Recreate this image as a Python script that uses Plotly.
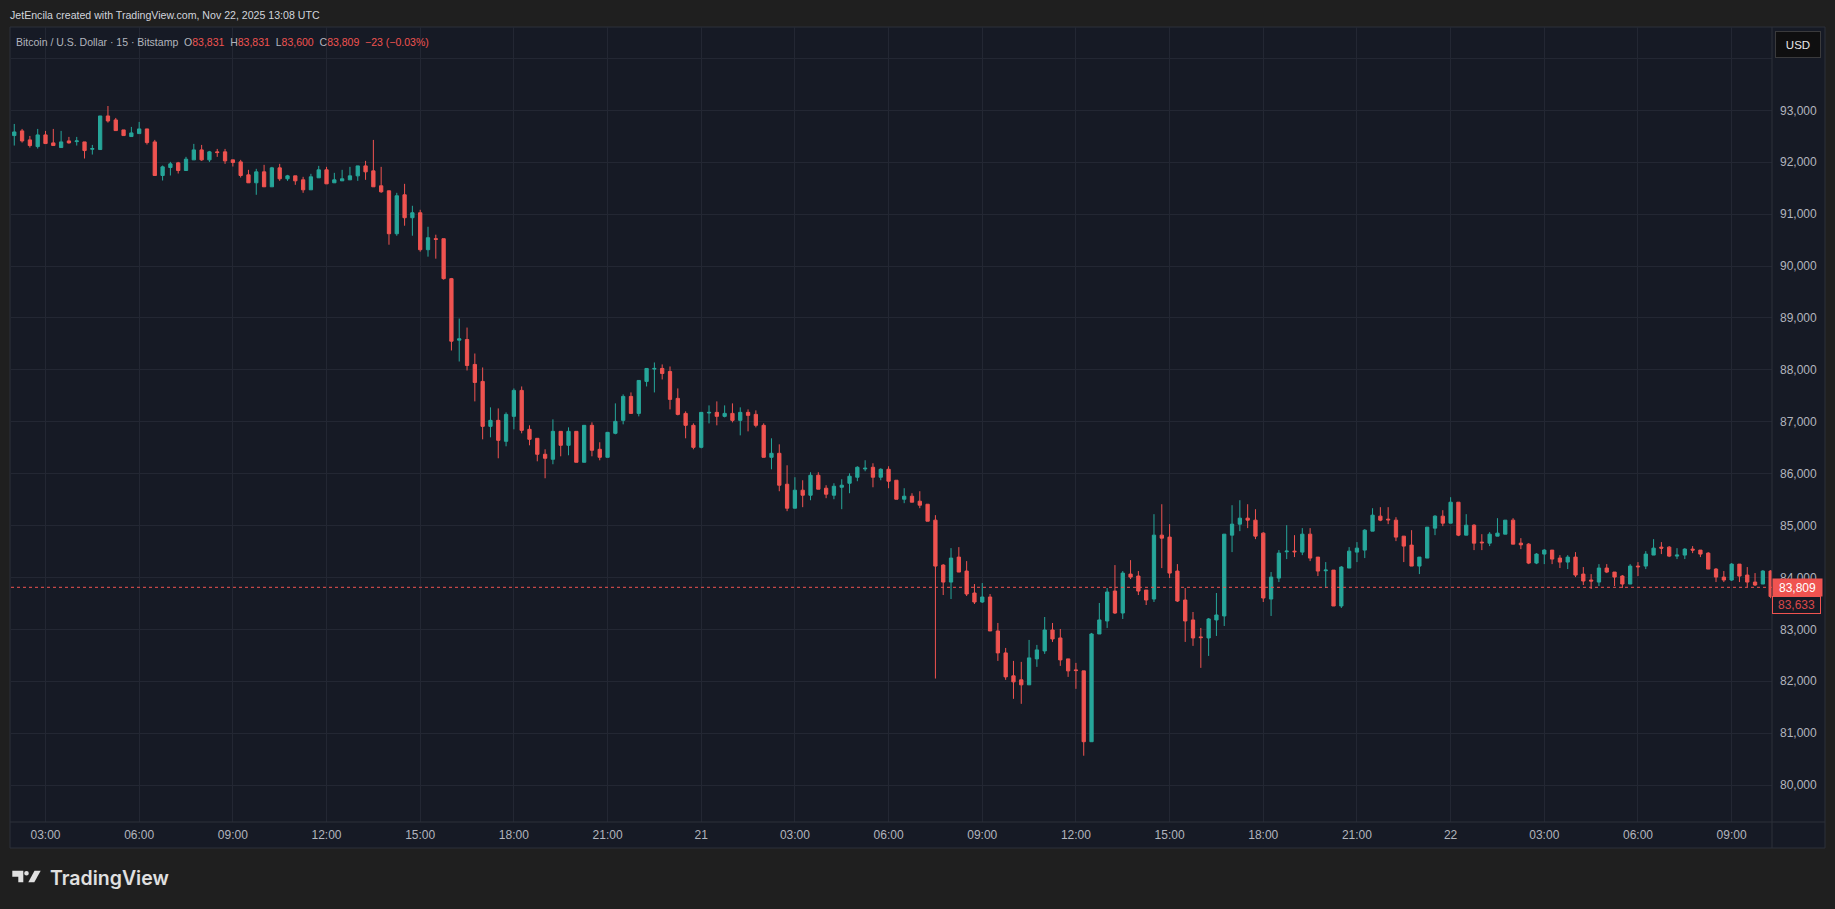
import plotly.graph_objects as go
import pandas as pd

# ---------------- data (15-minute BTC/USD candles, Bitstamp) ----------------
start_time = "2025-11-20 02:00"

opens = [92513, 92603, 92430, 92301, 92526, 92372, 92282, 92410, 92397, 92391,
         92250, 92244, 92891, 92814, 92622, 92494, 92551, 92641, 92391, 91744,
         91897, 91987, 91840, 92045, 92237, 92045, 92199, 92199, 92045, 92006,
         91756, 91603, 91814, 91526, 91891, 91680, 91737, 91660, 91468, 91699,
         91853, 91603, 91641, 91660, 91737, 91929, 91833, 91545, 91449, 90622,
         91372, 90930, 91026, 90314, 90526, 90526, 89756, 88571, 88583, 88103,
         87776, 86910, 87026, 86622, 87103, 87603, 86853, 86680, 86372, 86276,
         86814, 86545, 86814, 86218, 86930, 86468, 86314, 86776, 87026, 87487,
         87160, 87776, 88013, 88026, 87968, 87449, 87160, 86930, 86506, 87167,
         87180, 87103, 87160, 87026, 87180, 87141, 86930, 86314, 86391, 85795,
         85333, 85680, 85583, 85968, 85718, 85583, 85737, 85814, 85930, 86090,
         86122, 85930, 86083, 85872, 85506, 85564, 85468, 85410, 85103, 84237,
         83910, 84391, 84122, 83699, 83526, 83622, 82968, 82545, 82103, 82026,
         81930, 82430, 82583, 82987, 82833, 82430, 82218, 82199, 80834, 82910,
         83160, 83737, 83314, 84064, 84026, 83756, 83583, 84814, 84776, 84122,
         83564, 83180, 82853, 82833, 83180, 83257, 84814, 85026, 85141, 85103,
         84853, 83583, 83987, 84494, 84506, 84487, 84833, 84391, 84128, 84141,
         83449, 84180, 84487, 84526, 84891, 85180, 85122, 85103, 84795, 84622,
         84218, 84372, 84949, 85180, 85045, 85449, 84814, 85006, 84680, 84660,
         84795, 84833, 85103, 84660, 84641, 84276, 84449, 84526, 84372, 84295,
         84391, 84064, 83949, 83910, 84180, 84103, 84026, 83872, 84218, 84218,
         84430, 84583, 84583, 84410, 84430, 84545, 84526, 84468, 84160, 84006,
         83949, 84256, 84045, 83910, 83872, 84122]

highs = [92737, 92641, 92506, 92641, 92603, 92641, 92603, 92487, 92487, 92391,
         92333, 92891, 93083, 92853, 92622, 92680, 92776, 92641, 92430, 91936,
         92006, 92006, 92103, 92353, 92333, 92218, 92256, 92256, 92045, 92045,
         91853, 91872, 91949, 91910, 91968, 91756, 91737, 91718, 91776, 91929,
         91910, 91795, 91853, 91910, 91929, 92026, 92429, 91910, 91449, 91410,
         91583, 91160, 91083, 90756, 90603, 90526, 89770, 88987, 88814, 88314,
         88045, 87276, 87256, 87180, 87641, 87679, 86930, 86680, 86468, 87045,
         86814, 86891, 86814, 86930, 86987, 86603, 86795, 87353, 87526, 87564,
         87795, 88026, 88141, 88103, 88064, 87641, 87199, 86968, 87180, 87314,
         87391, 87314, 87353, 87276, 87237, 87218, 86968, 86680, 86564, 86160,
         85930, 85872, 86026, 86026, 85776, 85814, 85891, 86006, 86141, 86257,
         86199, 86103, 86141, 85872, 85718, 85622, 85660, 85410, 85199, 84256,
         84564, 84583, 84314, 83872, 83891, 83680, 83122, 82641, 82391, 82372,
         82795, 82699, 83237, 83122, 83006, 82430, 82353, 82199, 82930, 83507,
         83795, 84237, 84122, 84333, 84122, 83756, 85218, 85410, 85026, 84256,
         83795, 83333, 83026, 83218, 83699, 84833, 85391, 85487, 85410, 85314,
         84872, 84103, 84526, 85006, 84814, 84949, 84949, 84391, 84295, 84141,
         84218, 84583, 84680, 84929, 85333, 85353, 85353, 85160, 84795, 84910,
         84391, 84968, 85199, 85295, 85545, 85449, 85218, 85026, 84833, 84872,
         85141, 85103, 85141, 84756, 84660, 84468, 84545, 84526, 84429, 84429,
         84487, 84199, 84064, 84256, 84256, 84103, 84045, 84256, 84295, 84506,
         84737, 84680, 84603, 84564, 84564, 84603, 84526, 84487, 84180, 84122,
         84276, 84256, 84199, 84083, 84141, 84141]

lows = [92321, 92378, 92282, 92263, 92359, 92321, 92282, 92359, 92321, 92071,
        92147, 92244, 92763, 92609, 92513, 92494, 92551, 92340, 91744, 91647,
        91744, 91782, 91840, 92045, 92026, 92006, 92103, 91968, 91917, 91705,
        91603, 91372, 91526, 91526, 91641, 91641, 91564, 91410, 91468, 91699,
        91583, 91603, 91641, 91660, 91641, 91660, 91526, 91410, 90410, 90583,
        90776, 90583, 90276, 90180, 90141, 89737, 88372, 88160, 87987, 87391,
        86660, 86699, 86295, 86526, 86853, 86776, 86545, 86237, 85910, 86180,
        86333, 86353, 86218, 86218, 86333, 86256, 86314, 86757, 86949, 87160,
        87103, 87679, 87564, 87814, 87237, 87122, 86680, 86468, 86487, 86968,
        86930, 87083, 86987, 86737, 86814, 86891, 86314, 86083, 85660, 85276,
        85333, 85353, 85487, 85699, 85526, 85506, 85314, 85622, 85853, 86045,
        85737, 85872, 85718, 85506, 85430, 85449, 85333, 85083, 82051, 83660,
        83583, 84103, 83641, 83487, 83507, 82968, 82391, 82026, 81660, 81564,
        81930, 82276, 82526, 82757, 82295, 82083, 81853, 80564, 80834, 82910,
        83026, 83295, 83199, 83968, 83660, 83468, 83526, 84179, 83987, 83526,
        82757, 82680, 82257, 82487, 82872, 83064, 84487, 84891, 84949, 84737,
        83526, 83257, 83910, 84353, 84391, 84429, 84314, 84026, 83795, 83449,
        83410, 84180, 84295, 84372, 84891, 85083, 85026, 84699, 84295, 84218,
        84064, 84372, 84814, 84987, 85045, 84795, 84814, 84526, 84526, 84603,
        84795, 84833, 84641, 84545, 84256, 84256, 84256, 84256, 84180, 84160,
        84006, 83853, 83776, 83833, 84083, 83833, 83795, 83872, 84026, 84160,
        84430, 84449, 84391, 84353, 84353, 84468, 84391, 84160, 83910, 83910,
        83930, 83910, 83814, 83833, 83872, 83600]

closes = [92583, 92410, 92321, 92526, 92359, 92321, 92391, 92372, 92410, 92224,
          92263, 92891, 92795, 92609, 92513, 92564, 92641, 92378, 91744, 91910,
          91968, 91840, 92058, 92237, 92045, 92199, 92186, 92026, 91994, 91744,
          91603, 91814, 91526, 91891, 91680, 91737, 91641, 91468, 91718, 91853,
          91583, 91660, 91680, 91737, 91929, 91814, 91526, 91430, 90622, 91353,
          90930, 91026, 90314, 90545, 90513, 89756, 88551, 88596, 88083, 87756,
          86910, 87026, 86641, 87141, 87603, 86833, 86660, 86372, 86295, 86814,
          86545, 86814, 86218, 86930, 86449, 86314, 86795, 87006, 87487, 87160,
          87795, 88026, 88026, 87929, 87430, 87141, 86930, 86506, 87180, 87180,
          87103, 87160, 87026, 87180, 87122, 86930, 86314, 86391, 85776, 85333,
          85680, 85583, 85968, 85699, 85603, 85756, 85776, 85949, 86122, 86103,
          85930, 86083, 85853, 85506, 85564, 85449, 85391, 85083, 84218, 83910,
          84372, 84103, 83680, 83526, 83622, 82968, 82545, 82083, 81987, 81930,
          82449, 82603, 82987, 82814, 82410, 82199, 82205, 80834, 82910, 83180,
          83718, 83314, 84083, 84006, 83737, 83564, 84814, 84756, 84083, 83545,
          83160, 82833, 82840, 83199, 83276, 84833, 85026, 85141, 85103, 84795,
          83603, 84006, 84468, 84506, 84494, 84833, 84372, 84122, 84141, 83449,
          84199, 84506, 84564, 84910, 85199, 85103, 85109, 84776, 84603, 84218,
          84391, 84968, 85180, 85045, 85449, 84814, 85006, 84660, 84667, 84833,
          84853, 85103, 84641, 84628, 84276, 84449, 84526, 84353, 84295, 84391,
          84045, 83930, 83930, 84180, 84103, 84006, 83872, 84218, 84205, 84449,
          84564, 84564, 84410, 84430, 84545, 84526, 84449, 84160, 84006, 83949,
          84256, 84026, 83910, 83853, 84122, 83633]

x_tick_times = ["2025-11-20 03:00", "2025-11-20 06:00", "2025-11-20 09:00", "2025-11-20 12:00",
                "2025-11-20 15:00", "2025-11-20 18:00", "2025-11-20 21:00", "2025-11-21 00:00",
                "2025-11-21 03:00", "2025-11-21 06:00", "2025-11-21 09:00", "2025-11-21 12:00",
                "2025-11-21 15:00", "2025-11-21 18:00", "2025-11-21 21:00", "2025-11-22 00:00",
                "2025-11-22 03:00", "2025-11-22 06:00", "2025-11-22 09:00"]
x_tick_labels = ["03:00", "06:00", "09:00", "12:00", "15:00", "18:00", "21:00", "21",
                 "03:00", "06:00", "09:00", "12:00", "15:00", "18:00", "21:00", "22",
                 "03:00", "06:00", "09:00"]

y_tick_values = [80000, 81000, 82000, 83000, 84000, 85000, 86000, 87000, 88000,
                 89000, 90000, 91000, 92000, 93000, 94000]
y_tick_labels = ["80,000", "81,000", "82,000", "83,000", "84,000", "85,000", "86,000",
                 "87,000", "88,000", "89,000", "90,000", "91,000", "92,000", "93,000", ""]

last_price = 83809
last_price_label = "83,809"
second_label = "83,633"
header_text = "JetEncila created with TradingView.com, Nov 22, 2025 13:08 UTC"
legend_name = "Bitcoin / U.S. Dollar · 15 · Bitstamp"
legend_values = [("O", "83,831"), ("H", "83,831"), ("L", "83,600"), ("C", "83,809")]
legend_change = "−23 (−0.03%)"

# ---------------- styling ----------------
W, H = 1835, 909
L, R, T, B = 11, 1772, 27, 822          # plot area in pixels
GREEN = "#26a69a"
RED = "#ef5350"
PAGE_BG = "#1f1f1f"
CHART_BG = "#161a25"
GRID = "#232733"
BORDER = "#2c303b"
TEXT = "#b2b5be"
FONT = "Liberation Sans, Arial, sans-serif"


def px(x):
    return (x - L) / (R - L)


def py(y):
    return (B - y) / (B - T)


times = pd.date_range(start_time, periods=len(opens), freq="15min")
step = pd.Timedelta(minutes=15)

fig = go.Figure()
fig.add_trace(go.Candlestick(
    x=times, open=opens, high=highs, low=lows, close=closes,
    increasing=dict(line=dict(color=GREEN, width=1), fillcolor=GREEN),
    decreasing=dict(line=dict(color=RED, width=1), fillcolor=RED),
    whiskerwidth=0, showlegend=False, hoverinfo="skip",
))

shapes = [
    # outer chart frame
    dict(type="rect", xref="paper", yref="paper", x0=px(10), x1=px(1825), y0=py(848), y1=py(27),
         fillcolor=CHART_BG, line=dict(color=BORDER, width=1), layer="below"),
    # price scale separator
    dict(type="line", xref="paper", yref="paper", x0=px(1772), x1=px(1772), y0=py(848), y1=py(27),
         line=dict(color=BORDER, width=1)),
    # time scale separator
    dict(type="line", xref="paper", yref="paper", x0=px(10), x1=px(1825), y0=py(822), y1=py(822),
         line=dict(color=BORDER, width=1)),
    # last price dotted line
    dict(type="line", xref="paper", yref="y", x0=0, x1=1, y0=last_price, y1=last_price,
         line=dict(color=RED, width=1, dash="dot")),
    # TradingView logo glyph
    dict(type="path", xref="paper", yref="paper",
         path=f"M {px(12.3)},{py(870.7)} L {px(23.3)},{py(870.7)} L {px(23.3)},{py(882.3)} "
              f"L {px(18.3)},{py(882.3)} L {px(18.3)},{py(876.7)} L {px(12.3)},{py(876.7)} Z",
         fillcolor="#e0e0e0", line=dict(width=0)),
    dict(type="circle", xref="paper", yref="paper", x0=px(24.2), x1=px(28.8), y0=py(875.6), y1=py(871.0),
         fillcolor="#e0e0e0", line=dict(width=0)),
    dict(type="path", xref="paper", yref="paper",
         path=f"M {px(34.5)},{py(870.7)} L {px(40.7)},{py(870.7)} L {px(34.3)},{py(882.3)} "
              f"L {px(28.3)},{py(882.3)} Z",
         fillcolor="#e0e0e0", line=dict(width=0)),
]

legend_html = legend_name + "\u00a0\u00a0" + "\u00a0\u00a0".join(
    f"{k}<span style='color:{RED}'>{v}</span>" for k, v in legend_values
) + f"\u00a0\u00a0<span style='color:{RED}'>{legend_change}</span>"

annotations = [
    dict(text=header_text, xref="paper", yref="paper", x=px(8), y=py(15), xanchor="left",
         yanchor="middle", showarrow=False, font=dict(family=FONT, size=10.6, color="#d1d4dc")),
    dict(text=legend_html, xref="paper", yref="paper", x=px(14), y=py(42), xanchor="left",
         yanchor="middle", showarrow=False, font=dict(family=FONT, size=10.5, color=TEXT)),
    dict(text="USD", xref="paper", yref="paper", x=px(1798), y=py(44), xanchor="center",
         yanchor="middle", showarrow=False, width=38, height=19, borderpad=3,
         bgcolor="#0f0f10", bordercolor="#3a3a3c", borderwidth=1,
         font=dict(family=FONT, size=11.5, color="#e8e8e8")),
    dict(text=last_price_label, xref="paper", yref="y", x=px(1772), y=last_price, xanchor="left",
         yanchor="middle", showarrow=False, width=45, height=13, borderpad=2, bgcolor=RED,
         font=dict(family=FONT, size=12, color="#ffffff")),
    dict(text=second_label, xref="paper", yref="paper", x=px(1772), y=py(604.5), xanchor="left",
         yanchor="middle", showarrow=False, width=43, height=12, borderpad=2, bgcolor=CHART_BG,
         bordercolor=RED, borderwidth=1, font=dict(family=FONT, size=12, color="#d9484a")),
    dict(text="TradingView", xref="paper", yref="paper", x=px(48), y=py(878), xanchor="left",
         yanchor="middle", showarrow=False,
         font=dict(family="Inter, Lato, sans-serif", size=19.5, color="#e0e0e0", weight=600)),
]

fig.update_layout(
    width=W, height=H,
    margin=dict(l=L, r=W - R, t=T, b=H - B, autoexpand=False),
    paper_bgcolor=PAGE_BG, plot_bgcolor=CHART_BG,
    boxgap=0.4,
    showlegend=False,
    shapes=shapes, annotations=annotations,
    xaxis=dict(
        type="date", rangeslider=dict(visible=False),
        range=[times[0] - 0.42 * step, times[-1] + 0.17 * step],
        tickvals=pd.to_datetime(x_tick_times), ticktext=x_tick_labels,
        showgrid=True, gridcolor=GRID, gridwidth=1, zeroline=False, showline=False,
        ticks="", ticklabelstandoff=4,
        tickfont=dict(family=FONT, size=12, color=TEXT), fixedrange=True,
    ),
    yaxis=dict(
        side="right", range=[79287, 94605],
        tickvals=y_tick_values, ticktext=y_tick_labels,
        showgrid=True, gridcolor=GRID, gridwidth=1, zeroline=False, showline=False,
        ticks="", ticklabelstandoff=7,
        tickfont=dict(family=FONT, size=12, color=TEXT), fixedrange=True,
    ),
)

fig.write_html("out.html", config=dict(displayModeBar=False, responsive=False),
               post_script="document.body.style.margin='0';document.body.style.background='#1f1f1f';")
